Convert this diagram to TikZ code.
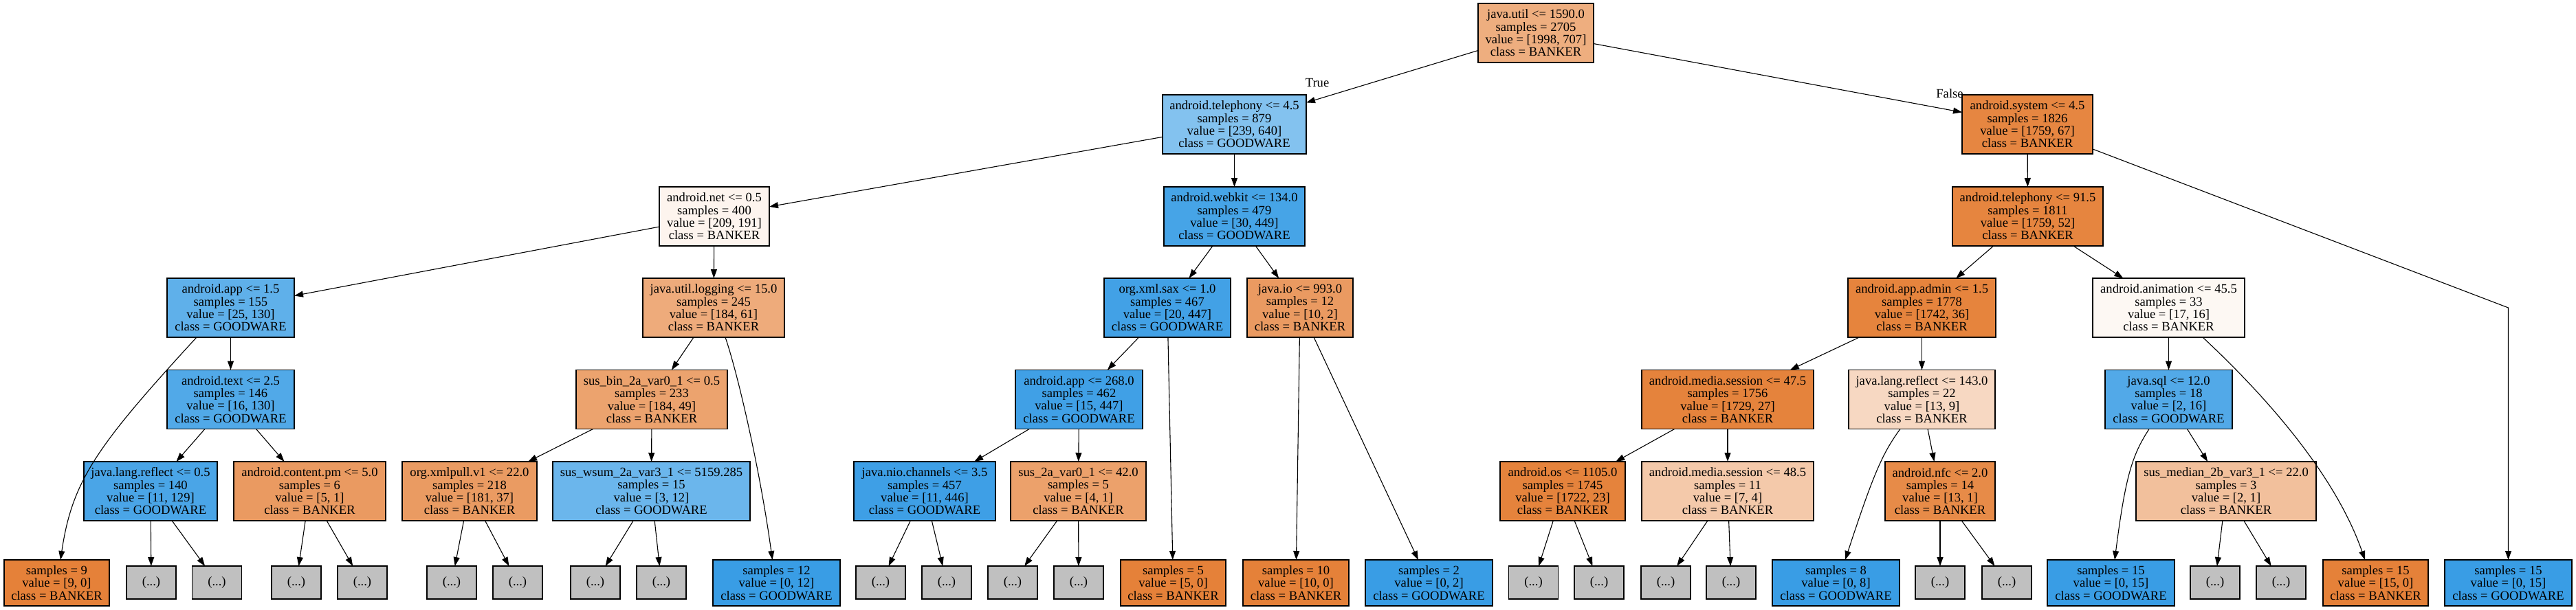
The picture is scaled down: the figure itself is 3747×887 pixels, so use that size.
\documentclass[tikz,border=0pt]{standalone}
\usepackage{fontspec}
\setmainfont{Liberation Serif}
\usetikzlibrary{arrows.meta}
\definecolor{grayc}{RGB}{192,192,192}
\definecolor{oF}{RGB}{229,129,57}
\definecolor{bF}{RGB}{57,157,229}
\definecolor{c0}{RGB}{238,174,127}
\definecolor{c1}{RGB}{131,194,239}
\definecolor{c2}{RGB}{253,244,238}
\definecolor{c3}{RGB}{70,164,231}
\definecolor{c4}{RGB}{95,176,234}
\definecolor{c5}{RGB}{238,171,123}
\definecolor{c6}{RGB}{66,161,230}
\definecolor{c7}{RGB}{234,154,97}
\definecolor{c8}{RGB}{81,169,232}
\definecolor{c9}{RGB}{236,163,110}
\definecolor{c10}{RGB}{64,160,230}
\definecolor{c11}{RGB}{74,165,231}
\definecolor{c12}{RGB}{234,154,97}
\definecolor{c13}{RGB}{234,155,98}
\definecolor{c14}{RGB}{107,182,236}
\definecolor{c15}{RGB}{62,159,230}
\definecolor{c16}{RGB}{236,161,107}
\definecolor{c17}{RGB}{230,134,65}
\definecolor{c18}{RGB}{230,133,63}
\definecolor{c19}{RGB}{230,132,61}
\definecolor{c20}{RGB}{253,248,243}
\definecolor{c21}{RGB}{229,131,60}
\definecolor{c22}{RGB}{247,216,194}
\definecolor{c23}{RGB}{82,169,232}
\definecolor{c24}{RGB}{229,131,60}
\definecolor{c25}{RGB}{244,201,170}
\definecolor{c26}{RGB}{231,139,72}
\definecolor{c27}{RGB}{242,192,156}
\begin{document}
\begin{tikzpicture}[x=1pt,y=-1pt,
  tn/.style={draw=black, line width=1.3pt, inner sep=0pt, outer sep=0pt, align=center,
    font=\fontsize{18.6}{18.3}\selectfont, minimum height=86},
  lf/.style={tn, minimum height=67},
  gy/.style={tn, fill=grayc, minimum width=72, minimum height=48},
  ed/.style={line width=1.1pt, -{Triangle[length=13pt,width=9pt]}},
  lab/.style={font=\fontsize{18.6}{18.3}\selectfont, inner sep=0pt}
]
\useasboundingbox (0,0) rectangle (3747,887);
% level 0
\node[tn, fill=c0, minimum width=168] (n0) at (2234,48) {java.util <= 1590.0\\samples = 2705\\value = [1998, 707]\\class = BANKER};
% level 1
\node[tn, fill=c1, minimum width=209] (n1) at (1795.5,181) {android.telephony <= 4.5\\samples = 879\\value = [239, 640]\\class = GOODWARE};
\node[tn, fill=c17, minimum width=190] (n17) at (2949,181) {android.system <= 4.5\\samples = 1826\\value = [1759, 67]\\class = BANKER};
% level 2
\node[tn, fill=c2, minimum width=160] (n2) at (1039,315) {android.net <= 0.5\\samples = 400\\value = [209, 191]\\class = BANKER};
\node[tn, fill=c3, minimum width=205] (n3) at (1795.5,315) {android.webkit <= 134.0\\samples = 479\\value = [30, 449]\\class = GOODWARE};
\node[tn, fill=c18, minimum width=219] (n18) at (2949.5,315) {android.telephony <= 91.5\\samples = 1811\\value = [1759, 52]\\class = BANKER};
% level 3
\node[tn, fill=c4, minimum width=185] (n4) at (335.5,448) {android.app <= 1.5\\samples = 155\\value = [25, 130]\\class = GOODWARE};
\node[tn, fill=c5, minimum width=206] (n5) at (1038,448) {java.util.logging <= 15.0\\samples = 245\\value = [184, 61]\\class = BANKER};
\node[tn, fill=c6, minimum width=184] (n6) at (1698,448) {org.xml.sax <= 1.0\\samples = 467\\value = [20, 447]\\class = GOODWARE};
\node[tn, fill=c7, minimum width=154] (n7) at (1891,448) {java.io <= 993.0\\samples = 12\\value = [10, 2]\\class = BANKER};
\node[tn, fill=c19, minimum width=215] (n19) at (2795.5,448) {android.app.admin <= 1.5\\samples = 1778\\value = [1742, 36]\\class = BANKER};
\node[tn, fill=c20, minimum width=221] (n20) at (3154.5,448) {android.animation <= 45.5\\samples = 33\\value = [17, 16]\\class = BANKER};
% level 4
\node[tn, fill=c8, minimum width=185] (n8) at (335.5,581.5) {android.text <= 2.5\\samples = 146\\value = [16, 130]\\class = GOODWARE};
\node[tn, fill=c9, minimum width=220] (n9) at (948,581.5) {sus\_bin\_2a\_var0\_1 <= 0.5\\samples = 233\\value = [184, 49]\\class = BANKER};
\node[tn, fill=c10, minimum width=185] (n10) at (1569.5,581.5) {android.app <= 268.0\\samples = 462\\value = [15, 447]\\class = GOODWARE};
\node[tn, fill=c21, minimum width=250] (n21) at (2513,581.5) {android.media.session <= 47.5\\samples = 1756\\value = [1729, 27]\\class = BANKER};
\node[tn, fill=c22, minimum width=213] (n22) at (2795.5,581.5) {java.lang.reflect <= 143.0\\samples = 22\\value = [13, 9]\\class = BANKER};
\node[tn, fill=c23, minimum width=185] (n23) at (3154.5,581.5) {java.sql <= 12.0\\samples = 18\\value = [2, 16]\\class = GOODWARE};
% level 5
\node[tn, fill=c11, minimum width=194] (n11) at (219,715) {java.lang.reflect <= 0.5\\samples = 140\\value = [11, 129]\\class = GOODWARE};
\node[tn, fill=c12, minimum width=221] (n12) at (450.5,715) {android.content.pm <= 5.0\\samples = 6\\value = [5, 1]\\class = BANKER};
\node[tn, fill=c13, minimum width=196] (n13) at (683,715) {org.xmlpull.v1 <= 22.0\\samples = 218\\value = [181, 37]\\class = BANKER};
\node[tn, fill=c14, minimum width=287] (n14) at (947.5,715) {sus\_wsum\_2a\_var3\_1 <= 5159.285\\samples = 15\\value = [3, 12]\\class = GOODWARE};
\node[tn, fill=c15, minimum width=206] (n15) at (1345,715) {java.nio.channels <= 3.5\\samples = 457\\value = [11, 446]\\class = GOODWARE};
\node[tn, fill=c16, minimum width=197] (n16) at (1568.5,715) {sus\_2a\_var0\_1 <= 42.0\\samples = 5\\value = [4, 1]\\class = BANKER};
\node[tn, fill=c24, minimum width=182] (n24) at (2273,715) {android.os <= 1105.0\\samples = 1745\\value = [1722, 23]\\class = BANKER};
\node[tn, fill=c25, minimum width=250] (n25) at (2513,715) {android.media.session <= 48.5\\samples = 11\\value = [7, 4]\\class = BANKER};
\node[tn, fill=c26, minimum width=160] (n26) at (2822,715) {android.nfc <= 2.0\\samples = 14\\value = [13, 1]\\class = BANKER};
\node[tn, fill=c27, minimum width=262] (n27) at (3238,715) {sus\_median\_2b\_var3\_1 <= 22.0\\samples = 3\\value = [2, 1]\\class = BANKER};
% leaves
\node[lf, fill=oF, minimum width=153] (l9) at (82.5,848.5) {samples = 9\\value = [9, 0]\\class = BANKER};
\node[gy] (g1) at (220,848) {(...)};
\node[gy] (g2) at (315.5,848) {(...)};
\node[gy] (g3) at (431,848) {(...)};
\node[gy] (g4) at (527,848) {(...)};
\node[gy] (g5) at (657,848) {(...)};
\node[gy] (g6) at (753,848) {(...)};
\node[gy] (g7) at (866,848) {(...)};
\node[gy] (g8) at (962,848) {(...)};
\node[lf, fill=bF, minimum width=185] (l12) at (1129.5,848.5) {samples = 12\\value = [0, 12]\\class = GOODWARE};
\node[gy] (g9) at (1281,848) {(...)};
\node[gy] (g10) at (1377,848) {(...)};
\node[gy] (g11) at (1473,848) {(...)};
\node[gy] (g12) at (1569,848) {(...)};
\node[lf, fill=oF, minimum width=153] (l5) at (1706.5,848.5) {samples = 5\\value = [5, 0]\\class = BANKER};
\node[lf, fill=oF, minimum width=154] (l10) at (1885,848.5) {samples = 10\\value = [10, 0]\\class = BANKER};
\node[lf, fill=bF, minimum width=185] (l2) at (2078.5,848.5) {samples = 2\\value = [0, 2]\\class = GOODWARE};
\node[gy] (g13) at (2230.5,848) {(...)};
\node[gy] (g14) at (2326,848) {(...)};
\node[gy] (g15) at (2423,848) {(...)};
\node[gy] (g16) at (2518,848) {(...)};
\node[lf, fill=bF, minimum width=185] (l8) at (2670.5,848.5) {samples = 8\\value = [0, 8]\\class = GOODWARE};
\node[gy] (g17) at (2822,848) {(...)};
\node[gy] (g18) at (2919,848) {(...)};
\node[lf, fill=bF, minimum width=185] (l15a) at (3070.5,848.5) {samples = 15\\value = [0, 15]\\class = GOODWARE};
\node[gy] (g19) at (3222,848) {(...)};
\node[gy] (g20) at (3318,848) {(...)};
\node[lf, fill=oF, minimum width=153] (l15b) at (3455.5,848.5) {samples = 15\\value = [15, 0]\\class = BANKER};
\node[lf, fill=bF, minimum width=185] (l15c) at (3648.5,848.5) {samples = 15\\value = [0, 15]\\class = GOODWARE};
% labels
\node[lab] (tlab) at (1916,120) {True};
\node[lab] (flab) at (2836,136) {False};
% edges
\draw[ed] (n0) -- (n1);
\draw[ed] (n0) -- (n17);
\draw[ed] (n1) -- (n2);
\draw[ed] (n1) -- (n3);
\draw[ed] (n2) -- (n4);
\draw[ed] (n2) -- (n5);
\draw[ed] ([xshift=-49.5pt]n4.south) .. controls (140,650) and (105,700) .. ([xshift=5.5pt]l9.north);
\draw[ed] (n4) -- (n8);
\draw[ed] (n8) -- (n11);
\draw[ed] (n8) -- (n12);
\draw[ed] (n11) -- (g1);
\draw[ed] (n11) -- (g2);
\draw[ed] (n12) -- (g3);
\draw[ed] (n12) -- (g4);
\draw[ed] (n5) -- (n9);
\draw[ed] ([xshift=17pt]n5.south) .. controls (1072,540) and (1105,680) .. ([xshift=-6pt]l12.north);
\draw[ed] (n9) -- (n13);
\draw[ed] (n9) -- (n14);
\draw[ed] (n13) -- (g5);
\draw[ed] (n13) -- (g6);
\draw[ed] (n14) -- (g7);
\draw[ed] (n14) -- (g8);
\draw[ed] (n3) -- (n6);
\draw[ed] (n3) -- (n7);
\draw[ed] (n6) -- (n10);
\draw[ed] (n6) -- (l5);
\draw[ed] (n10) -- (n15);
\draw[ed] (n10) -- (n16);
\draw[ed] (n15) -- (g9);
\draw[ed] (n15) -- (g10);
\draw[ed] (n16) -- (g11);
\draw[ed] (n16) -- (g12);
\draw[ed] (n7) -- (l10);
\draw[ed] (n7) -- (l2);
\coordinate (bend) at (3648.5,448);
\draw[ed] (n17) -- (bend) -- (l15c);
\draw[ed] (n17) -- (n18);
\draw[ed] (n18) -- (n19);
\draw[ed] (n18) -- (n20);
\draw[ed] (n19) -- (n21);
\draw[ed] (n19) -- (n22);
\draw[ed] (n21) -- (n24);
\draw[ed] (n21) -- (n25);
\draw[ed] (n24) -- (g13);
\draw[ed] (n24) -- (g14);
\draw[ed] (n25) -- (g15);
\draw[ed] (n25) -- (g16);
\draw[ed] ([xshift=-31.5pt]n22.south) .. controls (2738,660) and (2725,690) .. ([xshift=13.5pt]l8.north);
\draw[ed] (n22) -- (n26);
\draw[ed] (n26) -- (g17);
\draw[ed] (n26) -- (g18);
\draw[ed] (n20) -- (n23);
\draw[ed] ([xshift=49.5pt]n20.south) .. controls (3310,590) and (3400,700) .. ([xshift=-15.5pt]l15b.north);
\draw[ed] ([xshift=-28.5pt]n23.south) .. controls (3102,662) and (3092,690) .. ([xshift=5.5pt]l15a.north);
\draw[ed] (n23) -- (n27);
\draw[ed] (n27) -- (g19);
\draw[ed] (n27) -- (g20);
\end{tikzpicture}
\end{document}
